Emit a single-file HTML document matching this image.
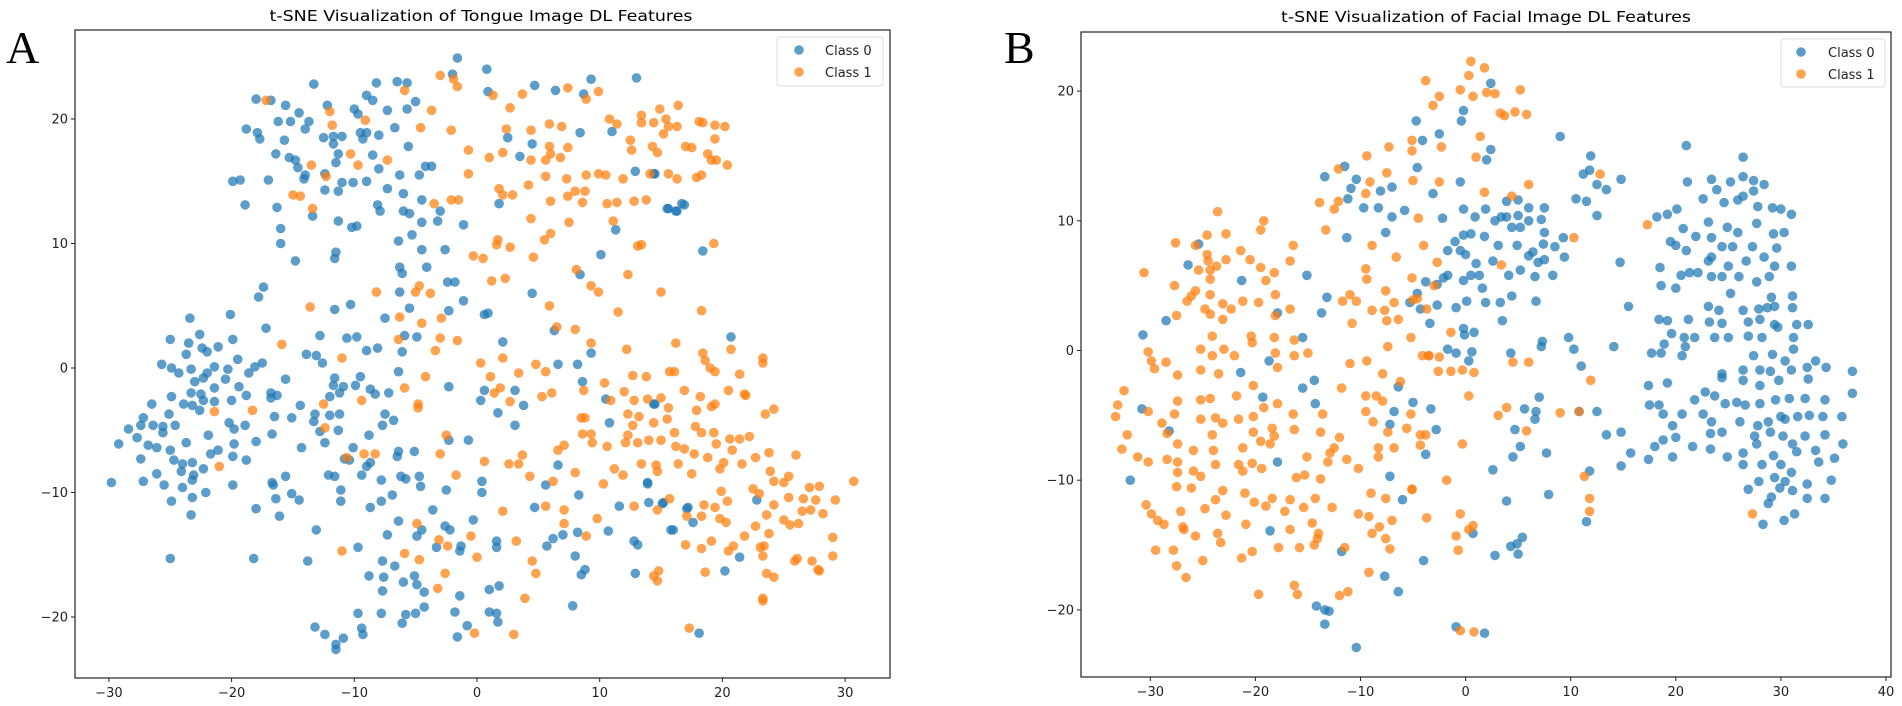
<!DOCTYPE html>
<html><head><meta charset="utf-8"><style>
html,body{margin:0;padding:0;background:#fff;}
svg{display:block;font-family:"DejaVu Sans","Liberation Sans",sans-serif;}
</style></head><body>
<svg id="fig" width="1902" height="706" viewBox="0 0 1902 706" xmlns="http://www.w3.org/2000/svg">
<rect x="0" y="0" width="1902" height="706" fill="#fff"/>
<text x="6" y="63" font-family="Liberation Serif, serif" font-size="46" fill="#000">A</text>
<text x="1004" y="63" font-family="Liberation Serif, serif" font-size="46" fill="#000">B</text>
<text x="481" y="21" text-anchor="middle" font-size="15.5" textLength="423" lengthAdjust="spacingAndGlyphs">t-SNE Visualization of Tongue Image DL Features</text>
<text x="1486" y="22" text-anchor="middle" font-size="15.5" textLength="410" lengthAdjust="spacingAndGlyphs">t-SNE Visualization of Facial Image DL Features</text>
<g id="plotA"></g>
<g id="plotB"></g>
</svg>
<script>
const aTicksX=[-30,-20,-10,0,10,20,30];
const aTicksY=[-20,-10,0,10,20];
const bTicksX=[-30,-20,-10,0,10,20,30,40];
const bTicksY=[-20,-10,0,10,20];
const legendLabels=["Class 0","Class 1"];
const aClass0=[[-1.6,24.9],[0.8,24],[-2,23.6],[-13.3,22.8],[-8.2,22.9],[-6.5,23],[-5.7,22.9],[4.7,22.7],[9.3,23.2],[13,23.3],[6.4,22.3],[0.9,22.2],[8.7,22],[-18,21.6],[-16.8,21.5],[-15.6,21.1],[-12.2,21.1],[-9,21.9],[-8.5,21.5],[-5,21.4],[-5.7,20.8],[-10,20.8],[-9.7,20.4],[-14.5,20.5],[-7.3,20.7],[-16.2,19.8],[-15.2,19.8],[-13.7,19.8],[-18.8,19.2],[-17.9,18.9],[-17.7,18.4],[-14,19.2],[-12.5,18.5],[-11.7,18.6],[-11,18.6],[-11.7,18],[-9.5,18.9],[-9,18.9],[-8,18.7],[-6.7,19.3],[-9.3,18.4],[2.5,18.5],[4.5,18],[8.4,18.9],[11,19],[-15.7,18.3],[-16.4,17.2],[-15.3,16.9],[-14.8,16.7],[-14.6,16.1],[-11.3,17.2],[-11.5,16.5],[-12.4,15.6],[-14,15.5],[-14.1,15.2],[-8.5,17.1],[-8,16],[-5.6,17.8],[-7.3,14.4],[-11,14.9],[-10.1,14.9],[-9,15],[-6.3,15.5],[-4.7,15.5],[-4.2,16.2],[-3.7,16.2],[3.5,17],[12.9,15.8],[14.5,15.6],[-19.9,15],[-19.3,15.1],[-17,15.1],[-12.4,14.3],[-11.3,14.2],[-6,14],[-4.5,13.5],[-18.9,13.1],[-8.1,13.1],[1.8,13.2],[-16.3,12.9],[-7.9,12.6],[-6,12.6],[-3,12.6],[-5.5,12.4],[-13.4,12.2],[-3.2,11.8],[-4.5,11.7],[-11.3,11.8],[-10.2,11.3],[-9.8,11.4],[-1.1,11.5],[11.3,11.1],[-16,11.2],[15.6,12.8],[16.3,12.6],[16.9,13.1],[-5.3,10.7],[-6.4,10.2],[-16,10],[-11.5,9.3],[-11.6,8.8],[-2.6,9.5],[-4.5,9.5],[-14.8,8.6],[-6.3,8.1],[-4.1,8.1],[-6.1,7.6],[10.1,9.1],[8.4,7.5],[-2.4,6.9],[-1.8,6.9],[-6.3,6.1],[-1.1,5.4],[-17.4,6.5],[-17.8,5.7],[-10.3,5.1],[-11.6,4.7],[-5.5,4.8],[-2.3,4.6],[0.6,4.3],[0.9,4.4],[4.5,6],[-7.5,4],[-17.2,3.2],[-20.1,4.3],[-23.4,4],[-12.8,2.6],[-10.6,2.4],[-9.8,2.5],[-5.9,2.6],[-4.9,2.5],[-6.1,1.3],[2.1,2.1],[6.3,3],[20.7,2.5],[-25,2.3],[-22.6,2.7],[-19.9,2.3],[-23.5,2],[-22.4,1.6],[-22,1.3],[-23.7,1.1],[-21.1,1.7],[-13.9,1.1],[-13.1,1],[-9,1.4],[-8.1,1.6],[9.3,1.2],[-25.7,0.3],[-24.9,0],[-24.3,-0.4],[-23.3,-0.1],[-22,-0.4],[-22.3,-0.8],[-21.4,0.1],[-20.3,-0.1],[-19.5,0.7],[-18.6,-0.4],[-18.1,0.1],[-17.5,0.4],[-20.5,-0.9],[-23,-1.1],[-19.4,-1.5],[-21.4,-1.6],[-15.6,-0.9],[-12.6,0.4],[-11.6,-0.8],[-11.7,-1.4],[-10.9,-1.5],[-9.5,-0.7],[-9.9,-1.4],[-6.4,-0.3],[6.6,0.3],[8.2,0.3],[8.6,-1.1],[10.5,-2.5],[14.5,-2.9],[-23.3,-2],[-22.5,-2.1],[-22.3,-2.6],[-23.2,-3],[-18.8,-2.2],[-26.5,-2.9],[-24.9,-2.3],[-21.4,-2.7],[-20,-2.6],[-23.9,-2.9],[-22.6,-3.4],[-16.8,-2.4],[-16.3,-2.2],[-16.8,-2],[-14.4,-3],[-12,-2.3],[-11.2,-2],[-8.7,-1.7],[-8.3,-2.1],[-7.2,-2],[-2.3,-1.5],[0.3,-2.6],[0.6,-1.8],[3.1,-1.8],[3.8,-3],[1.7,-3.6],[3.1,-4.6],[-27.2,-4],[-28.4,-4.9],[-27.4,-4.6],[-26.4,-4.6],[-25.6,-4.7],[-25.6,-5.2],[-24.6,-4.6],[-25.1,-3.7],[-20.2,-4.4],[-18.9,-4.6],[-19.8,-4.9],[-16.7,-5.3],[-16.5,-3.9],[-15.1,-4],[-13.2,-3.7],[-12,-3.8],[-13.3,-4.3],[-12.8,-5.1],[-11.2,-3.7],[-11.3,-5],[-7.7,-4.6],[-7.5,-3.7],[-6.8,-4.2],[-21.9,-5.4],[-27.7,-5.6],[-29.2,-6.1],[-26.8,-6.2],[-26.1,-6.4],[-25,-6.6],[-23.7,-6],[-21.7,-6.9],[-21.1,-6.6],[-19.8,-6.1],[-18,-5.9],[-14.3,-6.4],[-12.4,-6],[-10.1,-6.4],[-8.8,-5.4],[-6.4,-6.7],[-5.1,-6.7],[-2.3,-5.8],[-0.7,-5.8],[-27.4,-7.3],[-24.7,-7.4],[-24,-7.7],[-23.2,-7.6],[-22.3,-8.1],[-24.1,-8.3],[-23.1,-8.6],[-26.1,-8.5],[-27.2,-9.1],[-29.8,-9.2],[-25.5,-9.4],[-24,-9.6],[-23.2,-9],[-22.1,-10],[-19.9,-7.1],[-19.9,-9.4],[-18.8,-7.4],[-15.6,-8.7],[-16.7,-9.2],[-16.6,-9.4],[-15.1,-10.1],[-14.5,-10.6],[-10.8,-7.3],[-10.4,-7.4],[-9.4,-8.6],[-9,-7.9],[-8.7,-7.6],[-11.6,-8.7],[-12.1,-8.6],[-11.1,-9.8],[-6.5,-7.1],[-6.2,-8.7],[-5.8,-8.9],[-4.7,-8.7],[-4.6,-9.5],[-7.8,-9],[-6.9,-10.2],[-2.5,-9.8],[0.4,-9.1],[0.4,-10],[6.6,-7.8],[5.6,-9.4],[8.3,-10.2],[10.8,-4.4],[13.9,-9.2],[-24.9,-10.7],[-23.3,-11.8],[-23.2,-10.4],[-18,-11.3],[-16.1,-11.9],[-16.4,-10.5],[-11.1,-10.7],[-7.8,-10.7],[-8.7,-11.2],[-3.6,-11.4],[4.7,-11.2],[10.7,-13.1],[11.6,-11.1],[14,-10.8],[15.2,-10.8],[17.2,-11.2],[17.6,-12.4],[16,-13],[-13.1,-13],[-6.4,-12.3],[-7.3,-13.4],[-4.5,-13],[-2.6,-12.7],[-2.2,-13],[-0.3,-12.2],[-4.9,-13.5],[-3.3,-14.4],[-1.3,-14.3],[-1.4,-14.7],[1.6,-14.4],[1.6,-13.9],[5.7,-14.3],[6.2,-13.7],[7,-13.4],[8.2,-13.2],[12.8,-13.9],[13.1,-14.2],[8,-15.1],[8.8,-16.2],[8.5,-16.6],[12.9,-16.5],[20.2,-16.3],[21.4,-15.2],[-18.2,-15.3],[-25,-15.3],[-13.8,-15.5],[-9.7,-14.4],[-7.7,-15.5],[-6.7,-15.9],[-8.8,-16.7],[-7.6,-16.8],[-6,-17.2],[-5.1,-16.7],[-4.9,-17.4],[-4.3,-18],[-7.7,-17.9],[-1.4,-18.3],[1,-17.8],[1.8,-17.5],[7.8,-19.1],[-4.3,-19.2],[-5,-19.7],[-5.8,-19.8],[-7.8,-19.7],[-9.7,-19.7],[-6.1,-20.5],[-9.4,-20.9],[-9.3,-21.4],[-1.8,-19.6],[1,-19.6],[1.6,-19.7],[1.7,-20.4],[-0.8,-20.7],[-1.6,-21.6],[-13.2,-20.8],[-12.4,-21.4],[-10.9,-21.7],[-11.5,-22.2],[-11.5,-22.6],[18.1,-21.3],[18.4,9.4],[16.7,13.2],[16.2,12.6],[15.5,12.8],[14.4,15.6],[15.1,-10.9],[17.1,-11.3],[15.8,-13],[22.8,-10.6],[14.4,-2.9],[13.9,-9.3]];
const aClass1=[[-3,23.5],[-1.9,23.2],[-1.6,22.6],[-5.9,22.3],[1.3,21.9],[3.7,22],[7.4,22.5],[9.9,22.2],[8.9,21.6],[2.7,20.9],[-17.2,21.5],[-12,20.6],[-3.7,20.7],[-9.1,19.9],[-11.8,19.5],[-4.6,19.3],[-2.1,19.1],[2.4,19.2],[4.4,19.1],[5.9,19.6],[6.9,19.4],[10.8,20],[11.4,19.6],[13.4,20.3],[14.9,20.8],[15.4,20],[15.6,19.4],[16.4,21.1],[16.3,19.4],[15.2,18.8],[14.4,19.7],[13.4,19.7],[18.1,19.8],[18.4,19.7],[19.4,19.5],[20.2,19.4],[19.4,18.4],[18.8,17.2],[19.1,16.7],[19.5,16.7],[20.4,16.3],[17,17.8],[17.5,17.7],[12.5,18.3],[12.6,17.5],[14.3,17.8],[14.7,17.3],[5.9,17.8],[6,17.2],[5.6,16.7],[6.8,16.9],[7.4,17.7],[4.4,16.7],[2.1,17.3],[1,16.9],[-0.7,17.5],[-10.3,17.2],[-7.3,16.7],[-9.7,16.3],[-0.7,15.6],[5.6,15.4],[7.3,15.2],[8.9,15.5],[9.9,15.6],[10.5,15.5],[11.9,15.2],[14.1,15.6],[15.6,15.6],[16.3,15.2],[17.9,15.3],[18.3,15.5],[1.8,14.4],[2.1,13.9],[2.9,13.9],[4.2,14.7],[7.4,13.8],[8,14.2],[8.8,14.2],[8.6,13.3],[6,13.4],[10.6,13.2],[11.4,13.3],[13.8,13.5],[12.8,13.4],[-2.1,13.5],[-1.5,13.5],[-3.5,13.2],[-13.5,16.3],[-15,13.9],[-14.4,13.8],[-13.4,12.8],[-12.3,15.4],[4.4,12],[7.5,11.7],[11.1,11.8],[6,10.8],[5.5,10.3],[1.7,10.3],[1.6,9.9],[2.7,9.7],[4.6,8.9],[-0.3,9],[0.5,8.8],[13.1,9.8],[13.4,9.9],[19.3,10],[8.1,7.9],[12.3,7.5],[9.3,6.6],[9.9,6.1],[1.2,7],[2.3,7.2],[-4.7,6.6],[-5,6.1],[-3.8,6],[-8.2,6.1],[-13.6,4.9],[15,6.1],[5.9,5],[11.5,4.5],[18.3,4.6],[-6.3,4.1],[-4.5,3.6],[-2.9,4],[6.5,3.3],[8,3.1],[-15.9,1.9],[-6.4,2.3],[-3,2.4],[-1.6,2.2],[-3.4,1.4],[9.3,2],[12.2,1.5],[16.2,2],[18.4,1.2],[18.6,0.6],[19,0],[19.4,-0.3],[20.7,1.5],[-11,0.8],[0.3,0.4],[2.1,0.8],[4.8,0.3],[5.6,-0.3],[3.4,-0.4],[1.1,-0.7],[12.7,-0.6],[13.8,-0.7],[15.7,-0.3],[16.1,-0.3],[-4.2,-0.7],[10.4,-1.2],[-5.9,-1.6],[1.9,-1.6],[1.4,-2],[6.1,-2],[12,-1.9],[15,-2.4],[16.9,-1.8],[20.5,-1.8],[21.8,-2.1],[8.7,-1.8],[5.3,-2.3],[10.9,-2.6],[12.8,-2.6],[13.9,-2.5],[15.6,-3.2],[18.2,-2.3],[19.4,-2.9],[19.1,-3.1],[2.7,-2.7],[-9.4,-2.6],[-4.8,-2.9],[-4.8,-3.2],[-12.5,-2.9],[-21.4,-3.5],[-18.3,-3.4],[12.3,-3.7],[13.2,-3.9],[15.5,-4.1],[14.4,-4.4],[8.5,-4],[8.8,-4],[12.7,-4.6],[17.9,-3.4],[17.8,-4.7],[8.6,-5.3],[9.3,-5.3],[12.3,-5.4],[12.1,-6],[14,-5.8],[15,-5.8],[16.1,-5.2],[16.2,-6.3],[18.3,-5.2],[19.3,-5.2],[9.4,-6],[10.6,-6.3],[13.1,-6],[16.9,-6.5],[17.7,-6.9],[19.5,-6.1],[20.6,-5.7],[-12.4,-4.8],[-2.5,-5.4],[-3,-6.9],[6.6,-6.6],[7.1,-6.2],[0.6,-7.5],[2.6,-7.7],[3.4,-7.7],[3.7,-7],[4.3,-8.7],[-8.3,-6.9],[-9.2,-6.9],[-10.6,-7.2],[-21,-7.9],[-1.7,-8.6],[6.2,-9.1],[8,-8.4],[11.2,-8.1],[11.9,-8.6],[13.4,-7.7],[14.6,-7.8],[14.7,-8.3],[16.4,-7.7],[17.5,-8.5],[18.8,-7.2],[19.8,-8.1],[20.1,-7.6],[10.3,-9.3],[7.1,-11.4],[7.1,-12.5],[5.6,-11.1],[12.8,-11.1],[14.7,-11.4],[15.7,-10.5],[17,-14.2],[17.1,-11.9],[18.3,-11.9],[18.5,-11],[19.4,-11.2],[19.9,-9.9],[20.4,-10.7],[19.8,-12.1],[20.3,-12.4],[18.3,-14.5],[19.1,-13.9],[9.8,-12.1],[8.9,-13.5],[3.2,-13.9],[2.1,-11.5],[-0.5,-13.5],[-4.9,-12.5],[-3.1,-13.8],[-2.4,-14.3],[-2.6,-16.5],[0,-15.2],[-5.9,-14.9],[-4.7,-15.4],[-11,-14.7],[4.5,-15.5],[4.8,-16.5],[14.4,-16.7],[14.8,-16.3],[14.7,-17.1],[18.6,-16.4],[-3.2,-17.7],[3.9,-18.5],[-0.2,-21.3],[3,-21.4],[17.3,-20.9],[21.4,-0.5],[21.9,-2.2],[23.3,0.8],[23.3,0.4],[23.5,-3.7],[24.2,-3.3],[22.2,-5.5],[21.4,-5.7],[20.8,-6.6],[22.7,-7.2],[23.8,-6.8],[21.6,-7.7],[23.9,-8.3],[24.2,-9.1],[25,-9.2],[25.4,-8.7],[26,-7],[22.5,-9.7],[23,-10.1],[23.6,-11.8],[24.2,-11],[25.4,-10.4],[26.6,-10.5],[27.1,-9.6],[27.9,-9.5],[27.6,-10.6],[29.2,-10.6],[28.2,-11.7],[27.2,-11.4],[26.5,-11.5],[26.2,-12.5],[25.5,-12.6],[25,-12.2],[23.8,-13.3],[22.7,-12.7],[21.8,-13.5],[20.9,-14.3],[20.5,-14.7],[23.1,-14.4],[23.4,-14.3],[23.3,-15.1],[25.9,-15.5],[26.1,-15.3],[27.3,-15.5],[27.8,-16.2],[27.9,-16.3],[29,-13.6],[29,-15.1],[23.6,-16.5],[24.2,-16.8],[23.3,-18.5],[23.3,-18.7],[30.7,-9.1]];
const bClass0=[[2.4,20.6],[-0.2,18.5],[-0.4,17.7],[-4.7,17.7],[-2.5,16.7],[-4.1,16.2],[9,16.5],[2.4,15.5],[2,14.7],[11.9,15],[11.8,13.9],[11.2,13.6],[12.5,12.8],[13.4,12.4],[14.8,13.2],[10.5,11.7],[11.5,11.5],[12.5,10.4],[-4.6,14.1],[-11.5,14.2],[-13.4,13.4],[-10.4,13.2],[-10.9,12.5],[-11.2,11.7],[-8.1,12.3],[-7,12.6],[-9.7,11],[-8.3,11],[-5.8,10.8],[-7,10.3],[-7.6,9.1],[-11.3,8.7],[-3.1,12.1],[-0.5,13],[-2.2,10.2],[-0.2,10.9],[0.9,10.3],[1.9,10.9],[2.8,10],[3.4,10.3],[3.9,10.3],[5,10.4],[6,11],[5,11.6],[3.9,11.5],[7.5,11],[7.2,10.1],[6,10],[4.4,9.5],[5.2,9.5],[7.5,9.1],[9.3,8.7],[8.5,8],[9.4,7.2],[7.4,8.2],[6.4,7.6],[6,7.3],[6.9,6.8],[8.3,5.8],[6.6,5.7],[5.2,6.2],[4.9,8.1],[3.1,8.1],[1.8,8.8],[0.5,9],[-0.2,8.9],[-1,8.4],[-1.7,7.7],[-0.5,7.7],[0,7.4],[1,6.7],[2.6,6.9],[1.3,5.8],[0.5,5.8],[-0.2,5.4],[1.6,4.8],[1.9,3.7],[0.1,3.8],[-1.7,5.8],[-2.1,5.6],[-2.7,5.1],[-3.8,5.3],[-4.6,4.4],[-5.3,3.7],[-4.3,3.2],[-2.7,3.5],[-0.9,3.3],[4.4,4.2],[3.5,2.3],[3.3,3.7],[6.7,3.8],[-0.2,1.7],[-0.1,1.2],[0.8,1.4],[-3.4,2.1],[-1.7,0.1],[-0.9,-0.2],[0.6,-0.1],[0.3,-0.8],[4.3,-0.2],[7.2,0.3],[7.3,0.7],[9.8,1],[10.3,0.1],[11,-1.2],[14.1,0.3],[15.5,3.4],[14.7,6.8],[-5,-4],[-3.3,-4.5],[-2.8,-6.1],[-3.8,-8],[-6,-11.5],[-6.8,-4.7],[-7.2,-5.7],[-6.4,-2.8],[7,-3.6],[6.7,-4.7],[5.6,-4.5],[6.6,-5.3],[4.7,-6.1],[5.2,-7.4],[4.5,-8.2],[7.7,-7.9],[7.9,-11.1],[2.6,-9.2],[3.9,-11.6],[10.8,-4.7],[12.5,-4.7],[13.4,-6.5],[14.8,-6.3],[15.7,-7.9],[14.8,-8.9],[11.8,-9.3],[11.5,-13.2],[0.7,-14.1],[2.8,-15.8],[4.3,-15.1],[4.9,-14.9],[5.4,-14.4],[5,-15.7],[-4,-16.2],[-7.7,-17.4],[-6.4,-18.6],[-14.2,-19.7],[-13.4,-20],[-13,-20.1],[-13.4,-21.1],[-10.4,-22.9],[-0.9,-21.3],[1.8,-21.8],[-17.9,-8.6],[-18.6,-13.9],[-11.8,-15.5],[-7.2,-9.7],[-30.7,1.2],[-28.5,2.3],[-30.8,-4.5],[-31.9,-10],[-28.2,-6.2],[-26.4,6.6],[-25.4,8.2],[-21.3,5.4],[-21.4,-1.7],[-19.3,-3.6],[-18.7,-0.8],[-17.9,2.9],[-15.5,1],[-15.5,-2.9],[-14.4,-2.3],[-14.3,-4.1],[-15.1,5.8],[-13.7,2.9],[-13.2,4.1],[4.1,5.8],[7.5,7],[21,15.8],[26.4,14.9],[21.1,13],[23.4,13.2],[25.2,13],[26.4,13.4],[27.4,13.1],[28.4,12.8],[22.6,11.7],[23.9,12.4],[24.6,11.4],[25.9,11.6],[26.4,11.9],[27.4,12.3],[27.8,11.1],[29.2,11],[30,10.9],[31,10.5],[18.2,10.3],[19.2,10.5],[20.1,10.9],[20.7,9.4],[23.1,9.9],[24.9,9.5],[25.9,9.1],[27.7,9.8],[29.3,9],[30.3,9.1],[21.9,8.8],[23.4,8.7],[24.4,8],[25.4,8],[27.3,8],[19.5,8.4],[20,8.1],[21,7.7],[23.4,7.2],[23.1,6.9],[25,6.5],[26.7,6.9],[28.4,7.2],[29.6,7.9],[29.4,6.5],[31,6.5],[18.5,6.4],[20.5,5.8],[21.3,6],[22.1,6],[23.4,5.7],[24.4,5.7],[26,5.7],[27.7,5.3],[28.9,5.7],[18.6,5],[20,4.8],[25.2,4.4],[29.1,4.1],[31.1,4.2],[23.1,3.4],[24.1,3.1],[26.4,3.1],[27.9,3.2],[28.7,3.3],[29.4,3.4],[31.1,3.3],[18.4,2.4],[19.2,2.3],[21.2,2.4],[23.2,2.2],[24.4,2.1],[26.9,2.2],[28,2.4],[29.4,2],[29.7,1.8],[31.5,2],[32.6,2],[19.6,1.3],[20.8,1],[21.8,1],[23.7,1],[25,1],[26.9,1.1],[28.2,1],[31.2,1],[18.9,0.5],[20.9,0.3],[17.7,-0.2],[18.6,-0.2],[20.6,-0.4],[27.4,-0.4],[29.2,-0.3],[31.2,0.1],[30.4,-0.8],[33.3,-0.8],[24.4,-1.8],[26.4,-1.5],[28,-1.5],[29,-1.6],[31,-1.5],[32.5,-1.3],[34.3,-1.3],[36.8,-1.6],[17.4,-2.7],[19.2,-2.5],[24.4,-2.1],[26.4,-2.3],[28,-2.7],[29.8,-2.3],[32.6,-2.2],[22.8,-3.2],[23.7,-3.5],[24.7,-4.1],[21.8,-3.8],[17.5,-4.2],[18.4,-4.2],[25.8,-4],[26.6,-4.2],[28,-4.1],[29.5,-3.8],[30.8,-3.7],[32.3,-3.7],[34.2,-3.8],[36.8,-3.3],[18.8,-4.9],[20.6,-4.9],[22.6,-4.9],[23.4,-5.5],[26.1,-5.5],[27.8,-5.8],[28.8,-5.5],[30,-5.1],[30.4,-5.3],[31.6,-5.1],[32.7,-5],[34,-5.1],[35.8,-5.1],[19.7,-5.8],[23.3,-6.4],[24.4,-6.3],[27.5,-6.6],[29,-6.3],[30.2,-6.6],[31.1,-7.2],[32.3,-6.6],[34.2,-6.5],[20,-6.7],[18.8,-6.9],[18,-7.4],[21.6,-7.4],[23.3,-7.6],[24.9,-8.2],[26.4,-7.9],[27.7,-7.2],[29.3,-8.1],[31.5,-7.8],[33.3,-7.7],[35.1,-8.3],[35.9,-7.2],[17.4,-8.4],[19.7,-8.2],[26.4,-8.8],[28.2,-8.8],[30,-8.8],[31,-9.4],[33.6,-8.6],[29.4,-9.8],[27.9,-10.1],[30.4,-10.1],[32.5,-10.3],[34.8,-10],[26.9,-10.7],[29.9,-10.6],[29.1,-11.3],[31.1,-10.8],[32.5,-11.4],[34.2,-11.4],[28.8,-11.8],[31.3,-12.6],[30.3,-13.1],[28.3,-13.4]];
const bClass1=[[0.5,22.3],[1.8,21.8],[0.3,21.2],[-3.8,20.8],[-0.5,20.1],[0.7,19.6],[-2.5,19.6],[-3.1,18.9],[2,19.9],[2.8,19.8],[5.2,20.1],[3.3,18.3],[3.7,18.1],[4.7,18.4],[5.8,18.2],[1.4,16.5],[-5.1,16.2],[-5.1,15.4],[-2.3,15.7],[-7.3,15.7],[1,14.9],[-9.4,15],[-12.1,14],[-7.5,13.7],[-9.1,13],[-5,13.1],[-2.5,13],[6,12.8],[12.8,13.6],[1.8,12.2],[4.4,11.9],[-13.9,11.4],[-12.1,11.5],[-12.5,10.9],[-9.5,12.1],[-13.3,9.3],[-8.9,8.1],[-4.5,10.2],[-4,8.1],[-2.7,6.8],[-6.6,7.2],[-5.1,5.6],[-4.6,4],[3.4,6.6],[10.3,8.7],[17.3,9.7],[6,-0.9],[4.5,-0.9],[11.9,-2.3],[10.8,-4.7],[3.1,-5],[3.9,-4.4],[5.8,-6.2],[9,-4.8],[-2.5,-0.5],[-1.4,-1.6],[-0.3,-1.5],[0.8,-1.7],[-3.5,-0.4],[-5.2,1],[-1.4,1.4],[0.3,-3.5],[-0.3,-7.2],[-3.8,-6.5],[-4.3,-7.3],[-5.1,-10.7],[-3.7,-12.9],[-1.8,-10],[-0.5,-12.6],[0.3,-13.8],[0.7,-13.5],[-0.9,-14.3],[-0.7,-15.4],[-0.5,-21.6],[0.8,-21.7],[11.3,-9.7],[11.8,-11.4],[11.8,-12.4],[27.3,-12.6],[-30.6,6],[-32.5,-3.1],[-33.1,-4.2],[-33.3,-5.1],[-32.2,-6.5],[-32.7,-7.6],[-31.2,-8.2],[-30.2,-0.1],[-29.9,-0.8],[-29.6,-1.4],[-30.2,-4.7],[-30.2,-8.6],[-30.4,-11.9],[-29.9,-12.6],[-29.3,-13.1],[-28.7,-13.4],[-29.5,-15.4],[-28.9,-5.6],[-28.4,-6.4],[-28.4,-8.4],[-28.5,-0.9],[-27.7,5],[-27.6,8.3],[-27.5,2.7],[-27.4,-1.9],[-27.4,-3.9],[-27.7,-4.9],[-27.4,-7.2],[-27.4,-8.6],[-27.4,-9.4],[-27.5,-10.5],[-27.8,-15.4],[-27.5,-16.6],[-27.1,-12.4],[-26.9,-13.6],[-26.8,-13.8],[-26.6,-17.5],[-26.5,3.8],[-26.1,4.2],[-25.9,-7.7],[-25.9,-9.3],[-26.1,-10.6],[-25.7,-14.3],[-25.7,8.1],[-25.7,4.6],[-25.4,6.2],[-25.2,-9.7],[-25.2,-5.3],[-25.2,-3.8],[-25.2,-1.5],[-25.2,0.1],[-25,-16.2],[-24.8,-12.2],[-24.8,3.2],[-24.6,8.9],[-24.6,7.4],[-24.5,6.9],[-24.3,6.2],[-24.3,5.5],[-24.3,4.3],[-24.3,2.8],[-24.1,1.1],[-24.1,-0.4],[-24.3,-3.7],[-24.1,-6.5],[-24,-7.7],[-23.8,-8.8],[-23.8,-11.5],[-23.6,-14.1],[-23.6,10.7],[-23.7,6.5],[-23.5,-1.8],[-23.8,-5.2],[-23.1,3.6],[-23.1,2.4],[-23,0.1],[-23.1,-5.6],[-23.1,-10.8],[-22.8,-12.7],[-23.3,-14.8],[-22.8,9],[-22.8,7],[-22.3,3.2],[-22,-0.4],[-21.8,-3.5],[-21.6,-5.3],[-21.6,-8.8],[-21.4,7.7],[-21.2,3.8],[-21.2,-7.5],[-21.2,-9.3],[-21,-11],[-20.9,-13.4],[-21.3,-16],[-20.4,1.1],[-20.5,7],[-20.3,0.6],[-20.2,-2.7],[-20.2,-5.1],[-20.2,-6.3],[-20.3,-8.7],[-20.1,-11.7],[-20.3,-15.5],[-19.7,-18.8],[-19.7,3.7],[-19.5,6.4],[-19.5,9.3],[-19.2,10],[-19.5,-7],[-19.4,-9.1],[-19.2,-4.4],[-19,-12],[-18.6,-7.2],[-18.4,-6],[-18.4,-11.4],[-18.2,6],[-18.1,2.7],[-18.2,1],[-18.1,-0.2],[-17.9,-1.3],[-18.1,4.3],[-17.9,-4.1],[-18.2,-6.6],[-17.8,-15.2],[-17.2,-12.4],[-16.7,3.2],[-16.7,-11.5],[-16.7,-13.8],[-16.7,6.9],[-16.4,8.1],[-16.3,0.8],[-16.3,-0.4],[-16.4,-4.9],[-16.3,-6.1],[-16.1,-9.8],[-16.3,-18.1],[-16,-18.8],[-15.8,-15.2],[-15.4,-12.1],[-15.3,-9.6],[-15.1,-8.2],[-15,-0.2],[-14.6,-13.3],[-14.4,-15],[-14.3,-11.4],[-14.1,-14.5],[-14,-14.1],[-13.8,-9.9],[-13.8,-6.3],[-13.6,-4.9],[-13.1,-8.6],[-12.9,-7.9],[-12.7,-12.1],[-12.5,-7.5],[-12,-18.9],[-12,-6.7],[-11.8,-2.9],[-11.7,3.8],[-11.5,-15.2],[-11.3,-8.4],[-11.2,-18.6],[-11,4.3],[-11,-1],[-10.8,2.1],[-10.4,3.8],[-10.2,-9.1],[-10.2,-12.6],[-9.5,6.3],[-9.4,5.5],[-9.5,-3.5],[-9.5,-4.7],[-9.4,-0.8],[-9.2,-12.8],[-9.2,-17.1],[-9,-11],[-8.9,-14.1],[-8.9,3.1],[-8.8,-5.5],[-8.5,-3.5],[-8.3,-7.5],[-8.3,-8.2],[-8.2,-13.6],[-7.9,-3.9],[-7.9,-1.8],[-7.7,3.1],[-7.6,4.6],[-7.6,-11.4],[-7.6,-14.5],[-7.5,2.3],[-7.4,0.3],[-7.4,-6.3],[-7.2,-15.3],[-7,-13.1],[-6.8,3.7],[-6.8,-7.5],[-6.4,2.4],[-6.2,-2.4],[-5.6,-6],[-5.2,-4.9],[-5,3.9],[-5.1,-10.7],[-4.3,-6.5],[-4.1,-0.4],[-3.7,3.2],[-3.5,-0.4],[-3,5],[-2.6,-1.6],[-19,5.4]];

const SVGNS="http://www.w3.org/2000/svg";
function el(tag,attrs,parent,text){const e=document.createElementNS(SVGNS,tag);for(const k in attrs)e.setAttribute(k,attrs[k]);if(text!==undefined)e.textContent=text;parent.appendChild(e);return e;}
const COL0="#1f77b4",COL1="#ff7f0e";

function drawChart(g,cfg){
  const {x0,x1,y0,y1,xs,ys,ticksX,ticksY,c0,c1,leg}=cfg;
  // points
  const pg=el('g',{},g);
  
  
  [[c0,COL0,'class-0-point'],[c1,COL1,'class-1-point']].forEach(([arr,col,nm])=>{
    arr.forEach(p=>{
      const c=el('circle',{cx:xs(p[0]).toFixed(1),cy:ys(p[1]).toFixed(1),r:4.8,fill:col,'fill-opacity':0.72},pg);
      
      
    });
  });
  // frame
  const fr=el('rect',{x:x0,y:y0,width:x1-x0,height:y1-y0,fill:'none',stroke:'#222','stroke-width':1.2},g);
  
  
  ticksX.forEach(t=>{
    const x=xs(t);
    el('line',{x1:x,x2:x,y1:y1,y2:y1+4,stroke:'#222','stroke-width':1},g);
    const tx=el('text',{x:x,y:y1+19,'text-anchor':'middle','font-size':13,fill:'#222'},g,(t<0?'\u2212'+(-t):''+t));
    
    
  });
  ticksY.forEach(t=>{
    const y=ys(t);
    el('line',{x1:x0-4,x2:x0,y1:y,y2:y,stroke:'#222','stroke-width':1},g);
    const ty=el('text',{x:x0-7,y:y+4.5,'text-anchor':'end','font-size':13,fill:'#222'},g,(t<0?'\u2212'+(-t):''+t));
    
    
  });
  // legend
  const lg=el('g',{},g);
  
  
  el('rect',{x:leg.x,y:leg.y,width:leg.w,height:leg.h,rx:3,fill:'#fff','fill-opacity':0.85,stroke:'#ddd'},lg);
  legendLabels.forEach((lab,i)=>{
    const yy=leg.y+13+i*22;
    const m=el('circle',{cx:leg.mx,cy:yy,r:4.8,fill:i?COL1:COL0,'fill-opacity':0.72},lg);
    
    
    const t=el('text',{x:leg.tx,y:yy+5,'font-size':13,fill:'#222'},lg,lab);
    
    
  });
}

drawChart(document.getElementById('plotA'),{
  x0:75,x1:890,y0:30,y1:678,
  xs:v=>477+v*12.27, ys:v=>368-v*12.45,
  ticksX:aTicksX,ticksY:aTicksY,c0:aClass0,c1:aClass1,
  leg:{x:777,y:37,w:106,h:49,mx:799,tx:825}
});
drawChart(document.getElementById('plotB'),{
  x0:1081,x1:1891,y0:32,y1:677,
  xs:v=>1465.6+v*10.51, ys:v=>350.5-v*12.97,
  ticksX:bTicksX,ticksY:bTicksY,c0:bClass0,c1:bClass1,
  leg:{x:1781,y:39,w:104,h:48,mx:1801,tx:1828}
});
</script>
</body></html>
